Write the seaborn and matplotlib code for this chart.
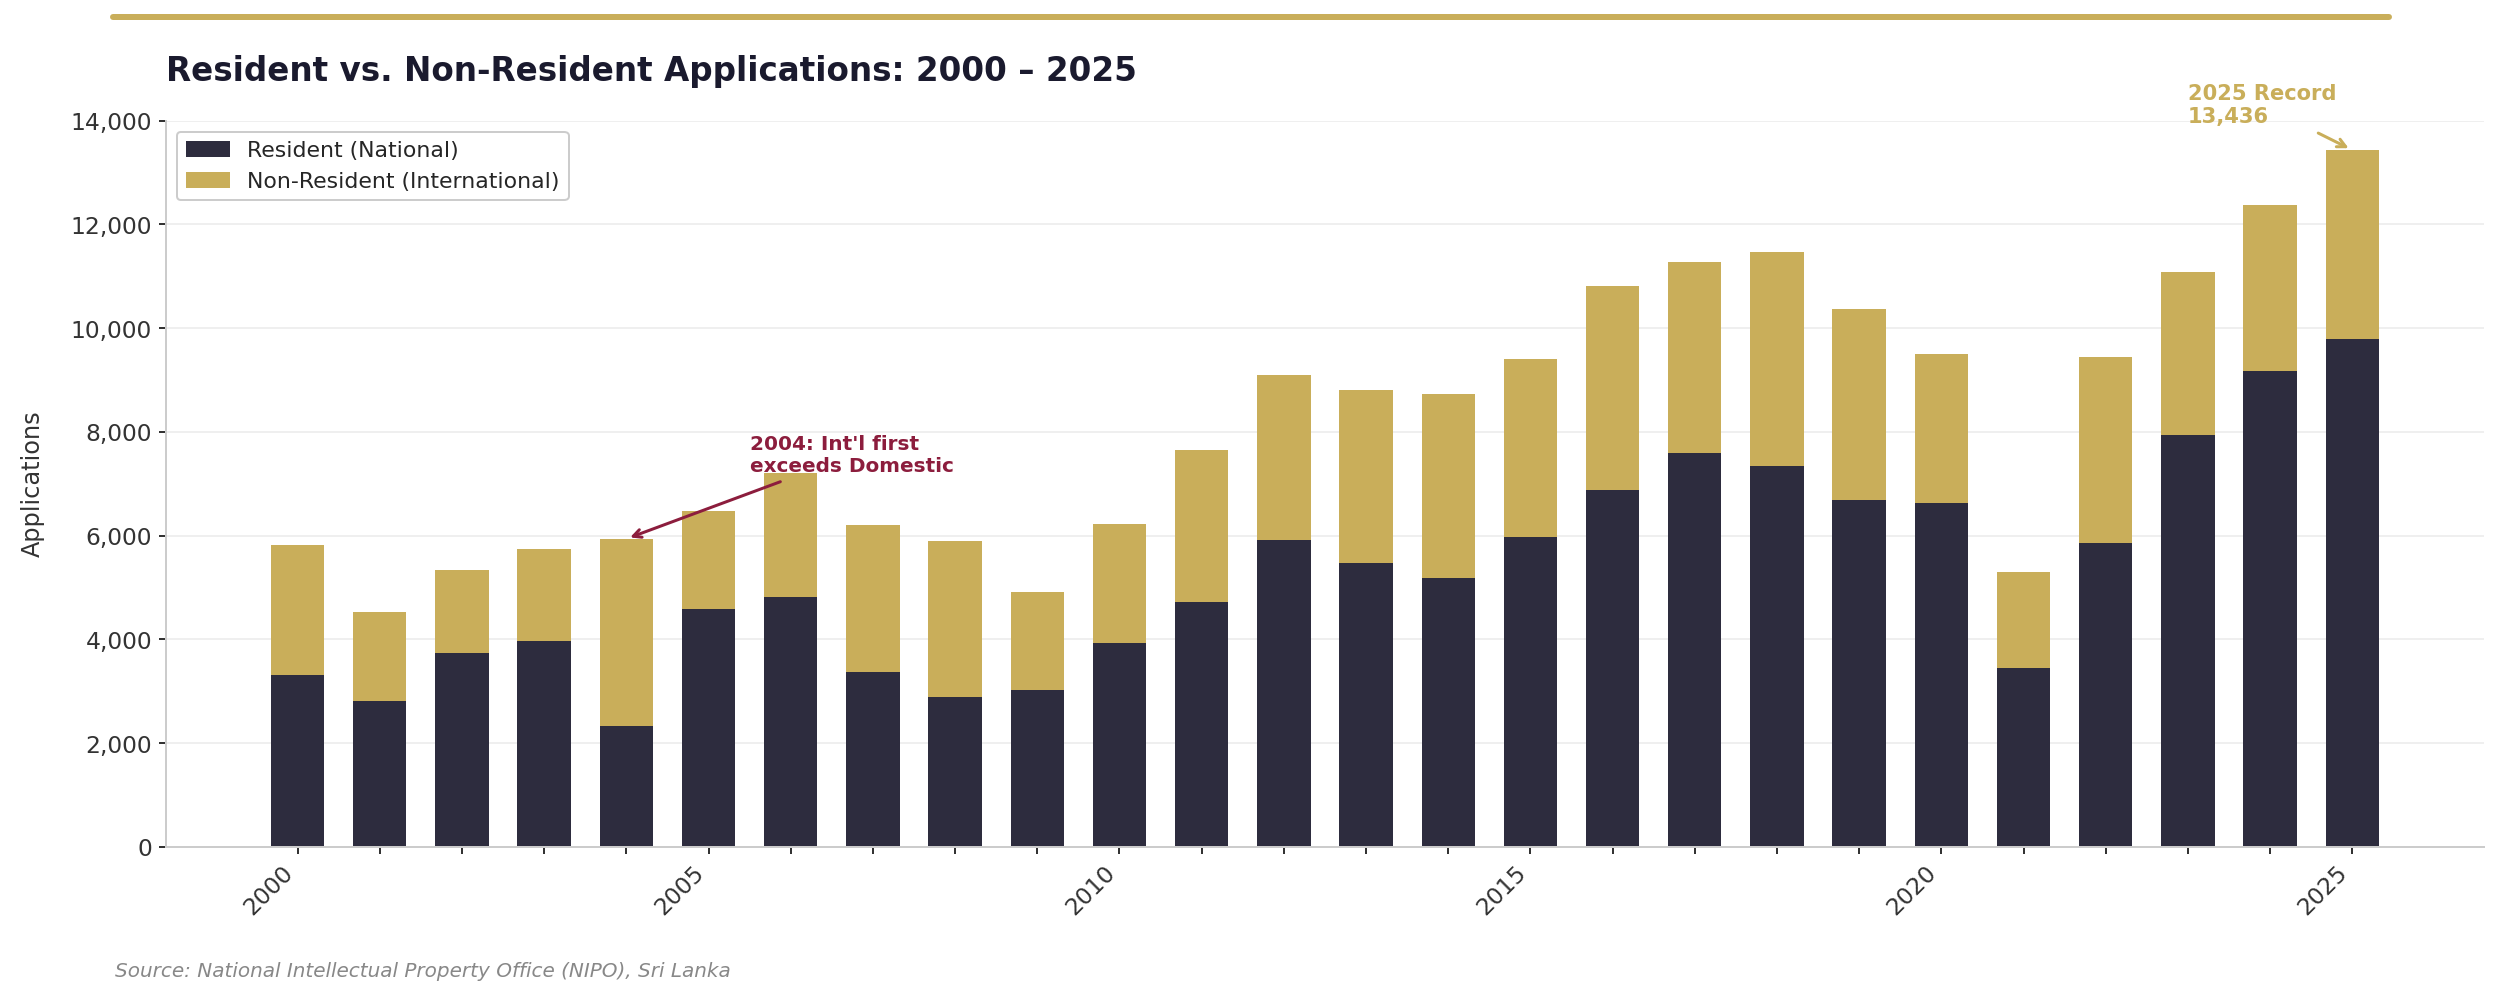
import pandas as pd
import matplotlib
matplotlib.use('Agg')
import matplotlib.pyplot as plt
import seaborn as sns
from matplotlib.ticker import FuncFormatter
from matplotlib.lines import Line2D

# data
years = list(range(2000, 2026))
resident = [3310, 2820, 3740, 3980, 2340, 4580, 4810, 3380, 2890, 3020,
            3940, 4720, 5920, 5480, 5190, 5980, 6890, 7600, 7350, 6680,
            6630, 3450, 5860, 7950, 9180, 9800]
non_resident = [2520, 1700, 1600, 1770, 3600, 1900, 2400, 2830, 3010, 1900,
                2290, 2940, 3180, 3330, 3540, 3430, 3920, 3680, 4120, 3690,
                2880, 1850, 3590, 3130, 3190, 3636]
tick_labels = [str(y) if y % 5 == 0 else '' for y in years]

DARK = '#2d2c3e'
GOLD = '#c9ae5a'
CRIMSON = '#8c1d3d'

df = pd.DataFrame({'year': [str(y) for y in years],
                   'resident': resident,
                   'non_resident': non_resident})
df['total'] = df['resident'] + df['non_resident']

sns.set_theme(style='white')
plt.rcParams['font.family'] = ['DejaVu Sans']

DPI = 144
fig, ax = plt.subplots(figsize=(2501.3 / DPI, 1000.3 / DPI), dpi=DPI)
fig.subplots_adjust(left=0.0664, right=0.993, bottom=0.153, top=0.879)

# stacked bars: total (gold) behind, resident (dark) in front
sns.barplot(data=df, x='year', y='total', color=GOLD, saturation=1, width=0.65,
            errorbar=None, linewidth=0, ax=ax, label='Non-Resident (International)')
sns.barplot(data=df, x='year', y='resident', color=DARK, saturation=1, width=0.65,
            errorbar=None, linewidth=0, ax=ax, label='Resident (National)')

ax.set_xlim(-1.6, 26.6)
ax.set_ylim(0, 14000)
ax.set_xticks(range(len(years)))
ax.set_xticklabels(tick_labels, rotation=45, ha='right')
ax.yaxis.set_major_formatter(FuncFormatter(lambda v, p: f'{int(v):,}'))
ax.tick_params(axis='both', labelsize=11.7, labelcolor='#333333', length=3.5,
               width=1, color='#333333', bottom=True, left=True)

ax.set_xlabel('')
ax.set_ylabel('Applications', fontsize=12, color='#333333', labelpad=13)

for s in ['top', 'right']:
    ax.spines[s].set_visible(False)
for s in ['left', 'bottom']:
    ax.spines[s].set_color('#cccccc')
    ax.spines[s].set_linewidth(1)
ax.yaxis.grid(True, color='#ececec', linewidth=0.8)
ax.set_axisbelow(True)

handles, labels = ax.get_legend_handles_labels()
ax.legend(handles[::-1], labels[::-1], loc='upper left', fontsize=11,
          frameon=True, edgecolor='#cccccc', framealpha=1)

ax.set_title('Resident vs. Non-Resident Applications: 2000 – 2025', loc='left',
             fontsize=16.3, fontweight='bold', color='#1a1a2e', pad=20)

# annotations
ax.annotate("2004: Int'l first\nexceeds Domestic",
            xy=(4, df['total'][4]), xytext=(5.5, 7550),
            ha='left', va='center', fontsize=10, fontweight='bold', color=CRIMSON,
            arrowprops=dict(arrowstyle='->', color=CRIMSON, lw=1.5))
ax.annotate(f"2025 Record\n{df['total'][25]:,}",
            xy=(25, df['total'][25]), xytext=(23, 14300),
            ha='left', va='center', fontsize=10.5, fontweight='bold', color=GOLD,
            annotation_clip=False,
            arrowprops=dict(arrowstyle='->', color=GOLD, lw=1.5))

# decorative top rule and source line
fig.add_artist(Line2D([0.045, 0.955], [0.983, 0.983], color=GOLD, lw=3,
                      transform=fig.transFigure))
fig.text(0.046, 0.029, 'Source: National Intellectual Property Office (NIPO), Sri Lanka',
         fontsize=10, style='italic', color='#888888', va='center')

fig.savefig('out.png', dpi=DPI)
